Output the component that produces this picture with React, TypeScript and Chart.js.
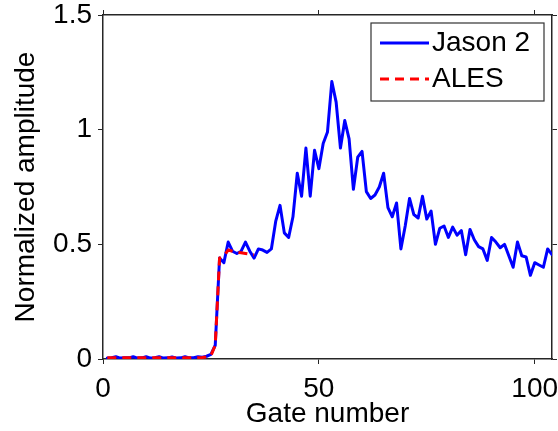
import React, { useEffect, useRef } from 'react';
import { Chart, registerables } from 'chart.js';

Chart.register(...registerables);

// ---- data ----
const gates = [
  1, 2, 3, 4, 5, 6, 7, 8, 9, 10, 11, 12, 13, 14, 15, 16, 17, 18, 19, 20,
  21, 22, 23, 24, 25, 26, 27, 28, 29, 30, 31, 32, 33, 34, 35, 36, 37, 38, 39, 40,
  41, 42, 43, 44, 45, 46, 47, 48, 49, 50, 51, 52, 53, 54, 55, 56, 57, 58, 59, 60,
  61, 62, 63, 64, 65, 66, 67, 68, 69, 70, 71, 72, 73, 74, 75, 76, 77, 78, 79, 80,
  81, 82, 83, 84, 85, 86, 87, 88, 89, 90, 91, 92, 93, 94, 95, 96, 97, 98, 99, 100,
  101, 102, 103, 104,
];

const jason2 = [
  0.004, 0.006, 0.01, 0.004, 0.006, 0.005, 0.01, 0.004, 0.005, 0.01,
  0.004, 0.006, 0.01, 0.004, 0.005, 0.009, 0.004, 0.005, 0.01, 0.005,
  0.006, 0.01, 0.008, 0.012, 0.02, 0.06, 0.44, 0.42, 0.51, 0.47,
  0.46, 0.47, 0.51, 0.47, 0.44, 0.48, 0.475, 0.465, 0.48, 0.6,
  0.67, 0.55, 0.53, 0.62, 0.81, 0.71, 0.92, 0.71, 0.91, 0.83,
  0.94, 0.99, 1.21, 1.12, 0.92, 1.04, 0.96, 0.74, 0.88, 0.905,
  0.73, 0.7, 0.715, 0.75, 0.81, 0.66, 0.62, 0.68, 0.48, 0.58,
  0.7, 0.63, 0.615, 0.71, 0.61, 0.645, 0.5, 0.57, 0.58, 0.53,
  0.575, 0.54, 0.56, 0.455, 0.565, 0.52, 0.49, 0.48, 0.43, 0.53,
  0.51, 0.485, 0.5, 0.45, 0.4, 0.51, 0.45, 0.445, 0.365, 0.42,
  0.41, 0.4, 0.48, 0.455,
];

const alesGates = [
  1, 2, 3, 4, 5, 6, 7, 8, 9, 10, 11, 12, 13, 14, 15, 16, 17, 18, 19, 20,
  21, 22, 23, 24, 25, 26, 27, 28, 29, 30, 31, 32, 33, 34, 35,
];

const ales = [
  0.005, 0.005, 0.006, 0.005, 0.005, 0.006, 0.005, 0.005, 0.006, 0.005,
  0.005, 0.006, 0.005, 0.005, 0.006, 0.005, 0.005, 0.006, 0.005, 0.005,
  0.006, 0.006, 0.007, 0.009, 0.015, 0.06, 0.44, 0.45, 0.475, 0.47,
  0.465, 0.463, 0.46, 0.457, 0.455,
];

const seriesLabels = ['Jason 2', 'ALES'];
const xTicks = [0, 50, 100];
const yTicks = [0, 0.5, 1, 1.5];

const FONT = "'Liberation Sans', Arial, Helvetica, sans-serif";
const FRAME = '#262626';

const boxLegend = {
  id: 'boxLegend',
  afterDatasetsDraw(chart: any) {
    const { ctx, chartArea } = chart;
    const w = 173;
    const h = 78;
    const right = chartArea.right - 8;
    const top = chartArea.top + 8;
    const left = right - w;
    ctx.save();
    ctx.fillStyle = '#ffffff';
    ctx.fillRect(left, top, w, h);
    ctx.strokeStyle = '#333333';
    ctx.lineWidth = 1.2;
    ctx.strokeRect(left, top, w, h);
    chart.data.datasets.forEach((ds: any, i: number) => {
      const y = top + 20 + i * 36;
      ctx.beginPath();
      ctx.setLineDash(ds.borderDash || []);
      ctx.strokeStyle = ds.borderColor;
      ctx.lineWidth = ds.borderWidth;
      ctx.moveTo(left + 9, y);
      ctx.lineTo(left + 58, y);
      ctx.stroke();
      ctx.setLineDash([]);
      ctx.fillStyle = '#000000';
      ctx.font = `28px ${FONT}`;
      ctx.textBaseline = 'middle';
      ctx.textAlign = 'left';
      ctx.fillText(ds.label, left + 61, y);
    });
    ctx.restore();
  },
};

const gridOpts = {
  drawOnChartArea: false,
  drawTicks: true,
  tickLength: 5,
  color: FRAME,
  lineWidth: 1,
};
const borderOpts = { display: true, color: FRAME, width: 1.5 };

const fitTo = (dim: 'width' | 'height', size: number) => (s: any) => {
  s[dim] = size;
  s.paddingLeft = 0;
  s.paddingRight = 0;
  s.paddingTop = 0;
  s.paddingBottom = 0;
};

export default function App() {
  const ref = useRef<HTMLCanvasElement | null>(null);

  useEffect(() => {
    if (!ref.current) return;
    const chart = new Chart(ref.current, {
      type: 'line',
      data: {
        datasets: [
          {
            label: seriesLabels[0],
            data: gates.map((g, i) => ({ x: g, y: jason2[i] })),
            borderColor: '#0000ff',
            borderWidth: 3,
            borderJoinStyle: 'round',
            borderCapStyle: 'round',
            pointRadius: 0,
            tension: 0,
            fill: false,
            order: 1,
            xAxisID: 'x',
            yAxisID: 'y',
          },
          {
            label: seriesLabels[1],
            data: alesGates.map((g, i) => ({ x: g, y: ales[i] })),
            borderColor: '#ff0000',
            borderWidth: 3,
            borderDash: [9, 6],
            borderJoinStyle: 'round',
            pointRadius: 0,
            tension: 0,
            fill: false,
            order: 0,
            xAxisID: 'x',
            yAxisID: 'y',
          },
        ],
      },
      options: {
        responsive: false,
        animation: false,
        devicePixelRatio: 1,
        layout: { padding: 0 },
        plugins: {
          legend: { display: false },
          tooltip: { enabled: false },
        },
        scales: {
          x: {
            type: 'linear',
            position: 'bottom',
            min: 0,
            max: 104,
            afterBuildTicks: (s: any) => {
              s.ticks = xTicks.map((v) => ({ value: v }));
            },
            afterFit: fitTo('height', 72),
            ticks: {
              font: { family: FONT, size: 28 },
              color: '#000',
              padding: 8,
              maxRotation: 0,
              autoSkip: false,
              callback: (v: any) => String(v),
            },
            grid: gridOpts,
            border: borderOpts,
            title: {
              display: true,
              text: 'Gate number',
              color: '#000',
              font: { family: FONT, size: 28, lineHeight: 1.2 },
              padding: { top: 0, bottom: 0 },
            },
          },
          x2: {
            type: 'linear',
            position: 'top',
            min: 0,
            max: 104,
            afterBuildTicks: (s: any) => {
              s.ticks = xTicks.map((v) => ({ value: v }));
            },
            afterFit: fitTo('height', 15),
            ticks: { display: false },
            grid: gridOpts,
            border: borderOpts,
          },
          y: {
            type: 'linear',
            position: 'left',
            min: 0,
            max: 1.5,
            afterBuildTicks: (s: any) => {
              s.ticks = yTicks.map((v) => ({ value: v }));
            },
            afterFit: fitTo('width', 103),
            ticks: {
              font: { family: FONT, size: 28 },
              color: '#000',
              padding: 6,
              autoSkip: false,
              callback: (v: any) => String(v),
            },
            grid: gridOpts,
            border: borderOpts,
            title: {
              display: true,
              text: 'Normalized amplitude',
              color: '#000',
              font: { family: FONT, size: 28, lineHeight: 1.2 },
              padding: { top: 9, bottom: 0 },
            },
          },
          y2: {
            type: 'linear',
            position: 'right',
            min: 0,
            max: 1.5,
            afterBuildTicks: (s: any) => {
              s.ticks = yTicks.map((v) => ({ value: v }));
            },
            afterFit: fitTo('width', 6),
            ticks: { display: false },
            grid: gridOpts,
            border: borderOpts,
          },
        },
      } as any,
      plugins: [boxLegend],
    });
    return () => chart.destroy();
  }, []);

  return (
    <div style={{ position: 'fixed', left: 0, top: 0, width: 558, height: 431, background: '#fff' }}>
      <canvas ref={ref} width={558} height={431} />
    </div>
  );
}
